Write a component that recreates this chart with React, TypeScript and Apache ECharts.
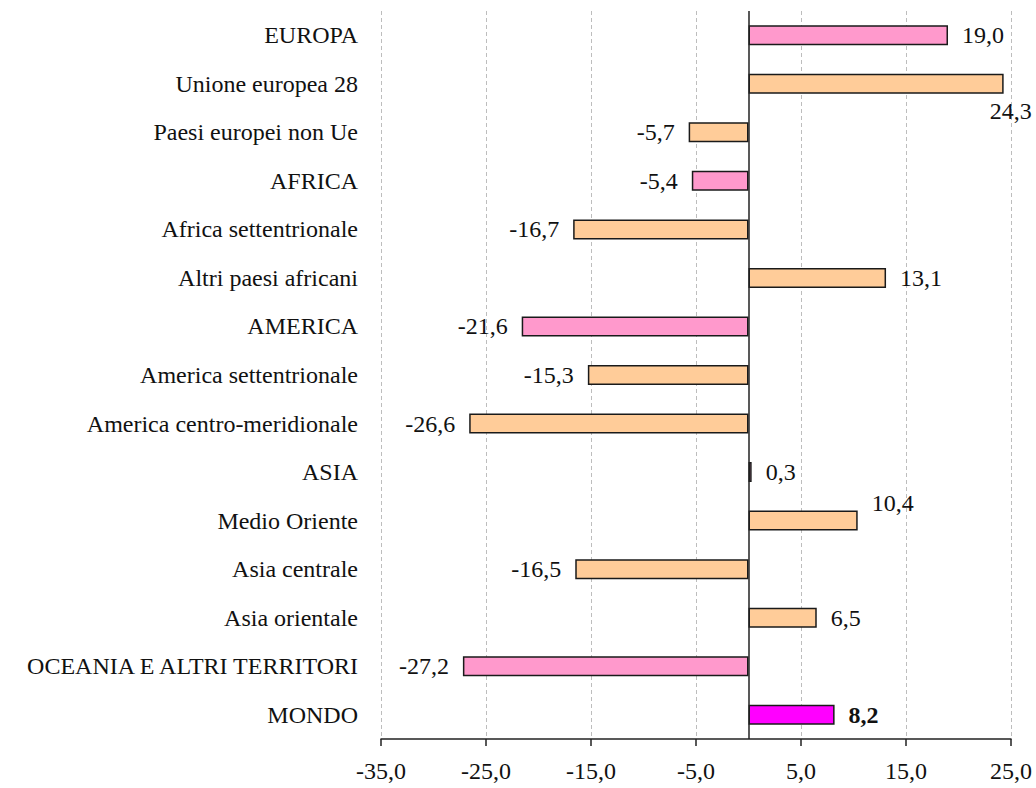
import React, { useEffect, useRef } from "react";
import * as echarts from "echarts";

// Regions and sub-regions, top to bottom
const categories: string[] = [
  "EUROPA",
  "Unione europea 28",
  "Paesi europei non Ue",
  "AFRICA",
  "Africa settentrionale",
  "Altri paesi africani",
  "AMERICA",
  "America settentrionale",
  "America centro-meridionale",
  "ASIA",
  "Medio Oriente",
  "Asia centrale",
  "Asia orientale",
  "OCEANIA E ALTRI TERRITORI",
  "MONDO",
];

// Percentage change per area
const values: number[] = [
  19.0, 24.3, -5.7, -5.4, -16.7, 13.1, -21.6, -15.3, -26.6, 0.3, 10.4, -16.5, 6.5, -27.2, 8.2,
];

// Level of each row: continent total, sub-area or world total
const levels: string[] = [
  "continent", "sub", "sub",
  "continent", "sub", "sub",
  "continent", "sub", "sub",
  "continent", "sub", "sub", "sub",
  "continent",
  "world",
];

// Value axis ticks
const xMin = -35;
const xMax = 25;
const xStep = 10;

const FONT = "'Liberation Serif', 'Times New Roman', serif";
const FONT_SIZE = 24;
const levelColor: Record<string, string> = {
  continent: "#FF99CC",
  sub: "#FFCC99",
  world: "#FF00FF",
};

const fmt = (v: number) => v.toFixed(1).replace(".", ",");

// Labels that are nudged away from the default position beside the bar end
const labelShift: Record<string, number[]> = {
  "Unione europea 28": [-28, 27],
  "Medio Oriente": [0, -18],
};

export default function App() {
  const ref = useRef<HTMLDivElement>(null);

  useEffect(() => {
    if (!ref.current) return;
    const chart = echarts.init(ref.current, undefined, { renderer: "svg" });

    const data = values.map((v, i) => {
      const cat = categories[i];
      const shift = labelShift[cat];
      return {
        value: v,
        itemStyle: { color: levelColor[levels[i]] },
        label: {
          position: v >= 0 ? "right" : "left",
          distance: 14,
          offset: shift ?? [0, 0],
          fontWeight: levels[i] === "world" ? "bold" : "normal",
        },
      };
    });

    chart.setOption({
      animation: false,
      backgroundColor: "#ffffff",
      grid: { left: 381, right: 25, top: 11, bottom: 49, containLabel: false },
      xAxis: {
        type: "value",
        min: xMin,
        max: xMax,
        interval: xStep,
        axisLine: { show: true, onZero: false, lineStyle: { color: "#222", width: 1.5 } },
        axisTick: { show: true, length: 7, lineStyle: { color: "#222", width: 1.5 } },
        axisLabel: {
          formatter: (v: number) => fmt(v),
          fontFamily: FONT,
          fontSize: FONT_SIZE,
          color: "#111",
          margin: 20,
        },
        splitLine: { show: true, lineStyle: { color: "#bdbdbd", type: [4, 3], width: 1 } },
      },
      yAxis: {
        type: "category",
        data: categories,
        inverse: true,
        axisLine: { show: false },
        axisTick: { show: false },
        splitLine: { show: false },
        axisLabel: {
          fontFamily: FONT,
          fontSize: FONT_SIZE,
          color: "#111",
          margin: 23,
        },
      },
      series: [
        {
          type: "bar",
          data,
          barWidth: 20,
          itemStyle: { borderColor: "#1a1a1a", borderWidth: 1.5 },
          label: {
            show: true,
            formatter: (p: any) => fmt(p.value),
            fontFamily: FONT,
            fontSize: FONT_SIZE,
            color: "#111",
          },
          markLine: {
            silent: true,
            symbol: "none",
            label: { show: false },
            lineStyle: { color: "#222", type: "solid", width: 1.5 },
            data: [{ xAxis: 0 }],
          },
        },
      ],
    });

    return () => chart.dispose();
  }, []);

  return (
    <div
      ref={ref}
      style={{ position: "fixed", left: 0, top: 0, width: 1036, height: 788, background: "#fff" }}
    />
  );
}
